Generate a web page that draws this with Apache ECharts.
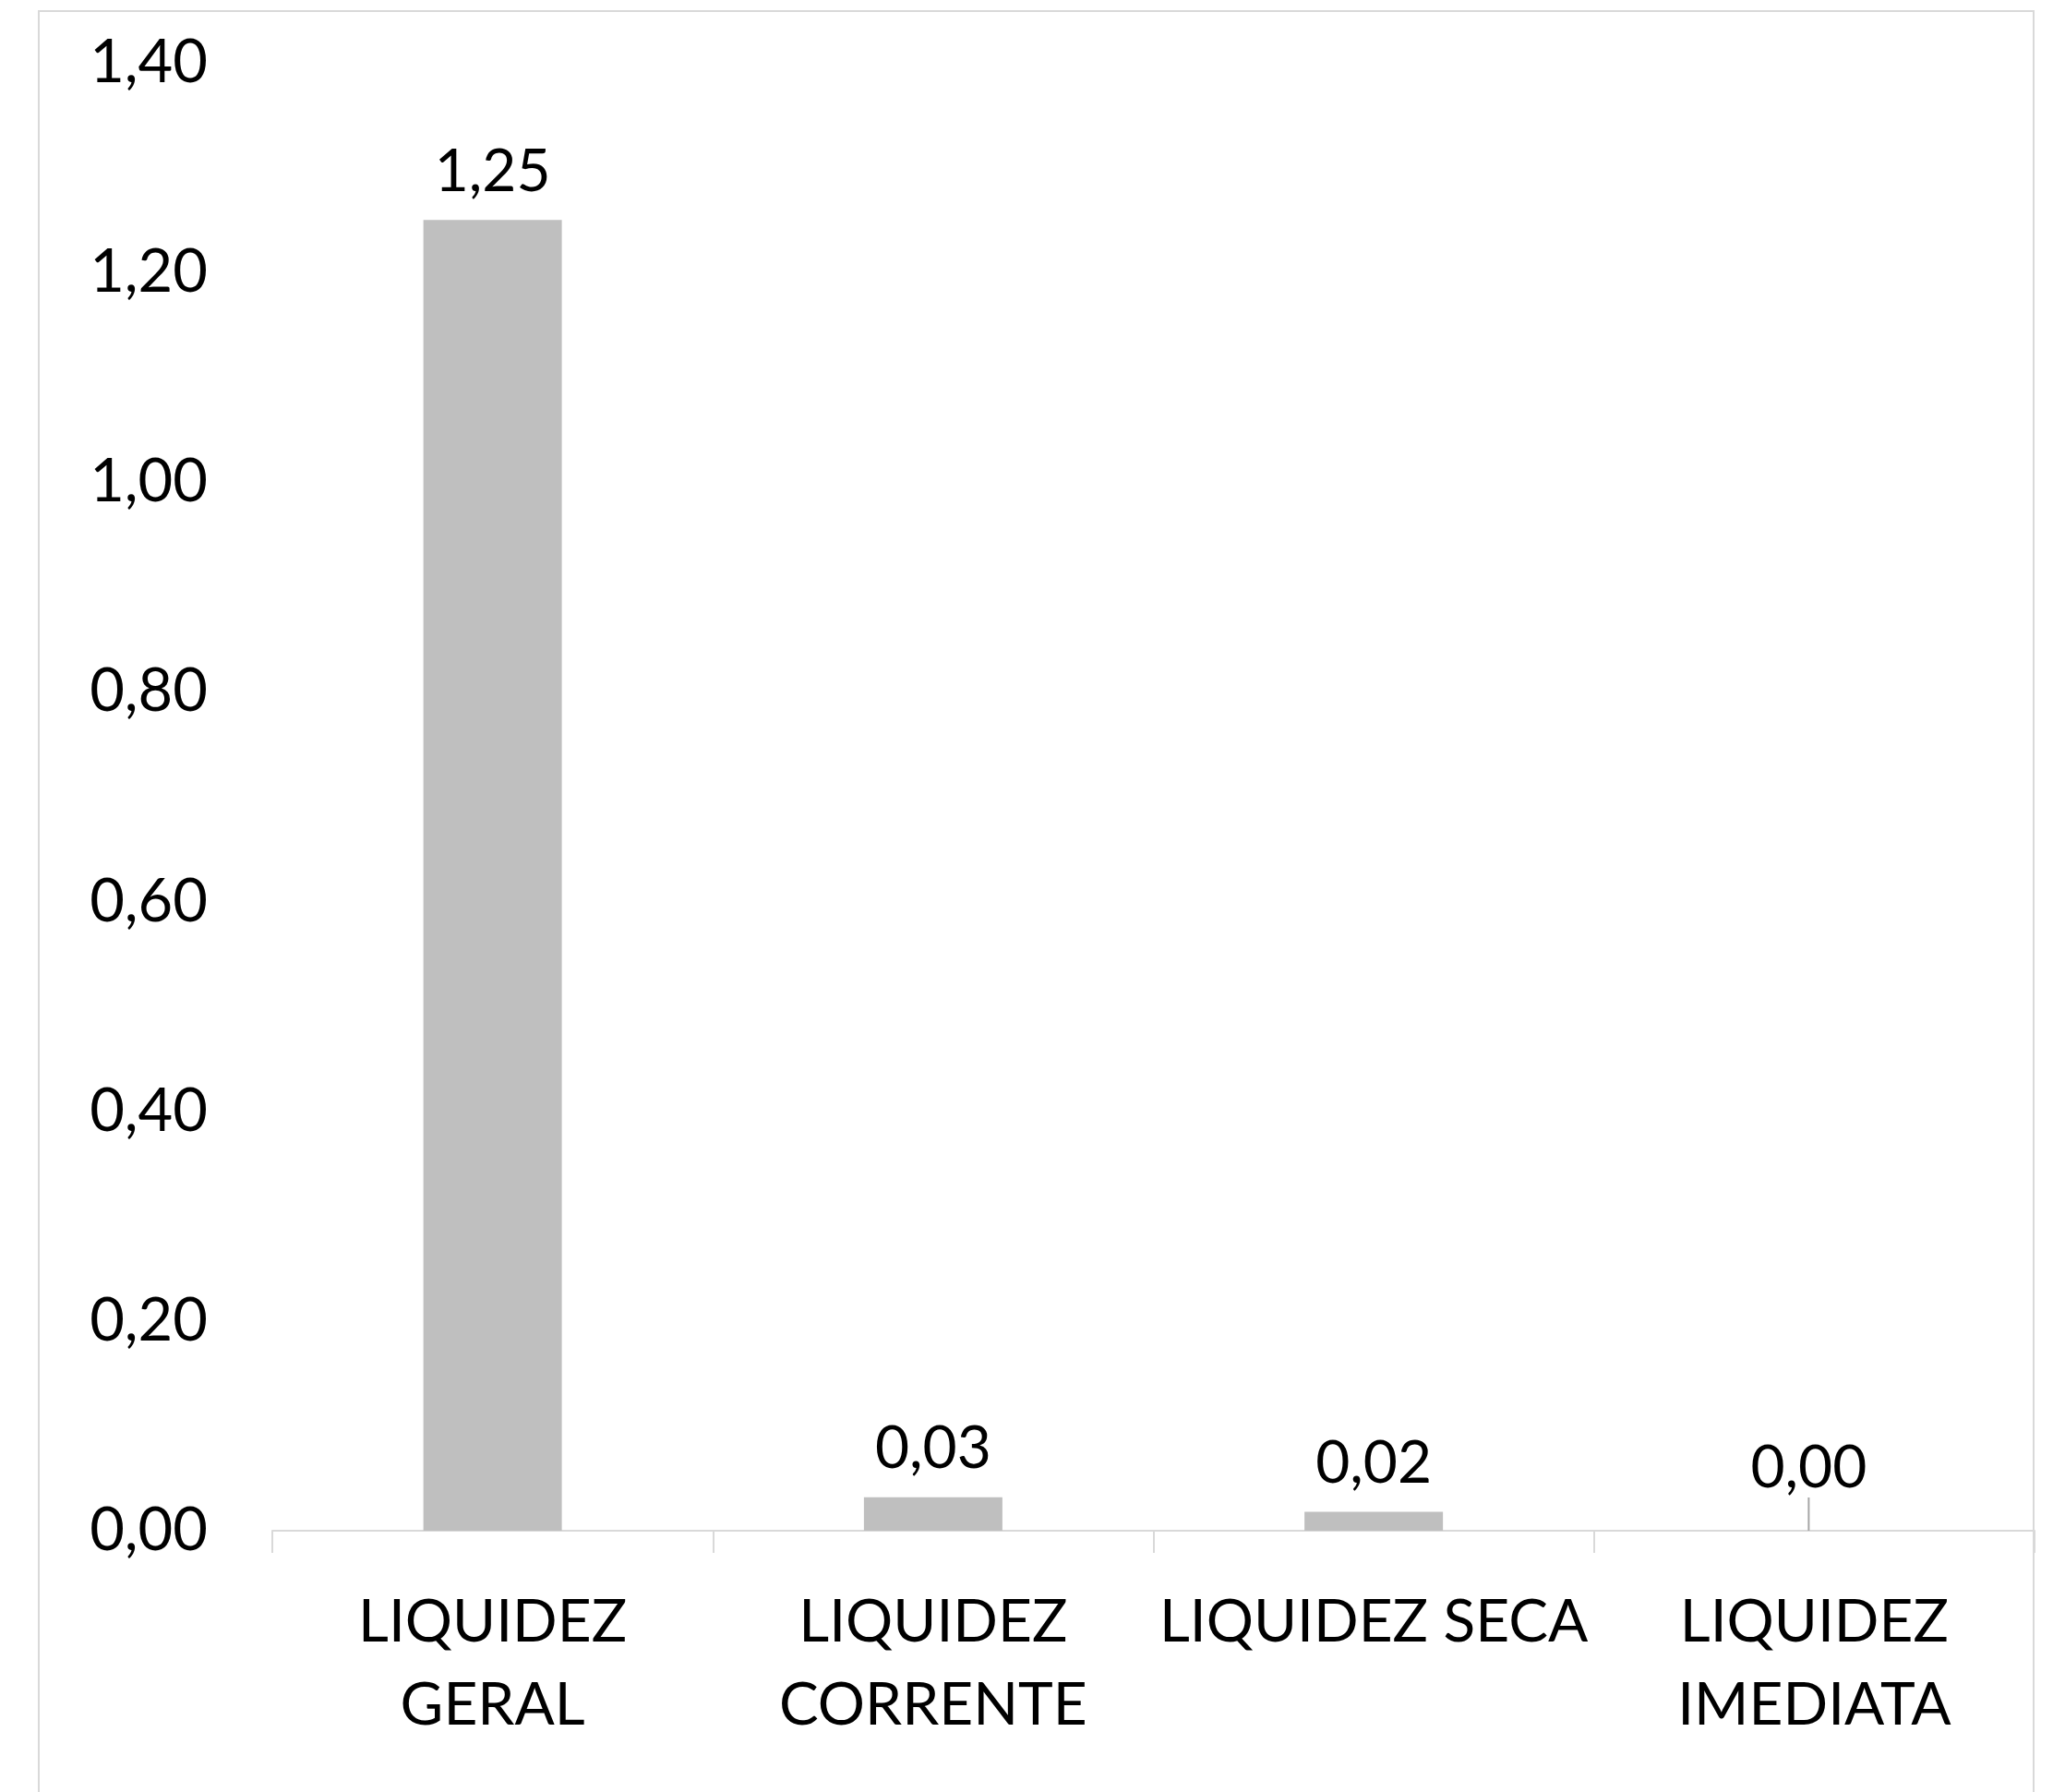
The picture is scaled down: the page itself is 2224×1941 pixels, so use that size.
<!DOCTYPE html>
<html>
<head>
<meta charset="utf-8">
<script src="https://cdn.jsdelivr.net/npm/echarts@6/dist/echarts.min.js"></script>
<style>
html,body{margin:0;padding:0;background:#fff;}
#chart{width:2224px;height:1941px;}
</style>
</head>
<body>
<div id="chart"></div>
<script>
const categories = ['LIQUIDEZ\nGERAL', 'LIQUIDEZ\nCORRENTE', 'LIQUIDEZ SECA', 'LIQUIDEZ\nIMEDIATA'];
const values = [1.25, 0.032, 0.018, 0.0];
const yMin = 0, yMax = 1.4, yStep = 0.2;

const fmt = v => Number(v).toFixed(2).replace('.', ',');
const FONT = 'Lato';

const seriesData = values.map((v, i) => (v === 0 ? {value: v, labelLine: {show: true}} : {value: v}));

const chart = echarts.init(document.getElementById('chart'), null, {renderer: 'canvas'});
chart.setOption({
  backgroundColor: '#ffffff',
  animation: false,
  graphic: [{
    type: 'rect',
    silent: true,
    shape: {x: 42, y: 12, width: 2161, height: 2000},
    style: {fill: 'none', stroke: '#d9d9d9', lineWidth: 2}
  }],
  grid: {left: 295, right: 20, top: 68, bottom: 283, containLabel: false},
  xAxis: {
    type: 'category',
    data: categories,
    boundaryGap: true,
    axisLine: {show: true, lineStyle: {color: '#d9d9d9', width: 2}},
    axisTick: {show: true, length: 24, alignWithLabel: false, lineStyle: {color: '#d9d9d9', width: 2}},
    axisLabel: {
      interval: 0, margin: 54, color: '#000', fontFamily: FONT, fontSize: 64, lineHeight: 90
    },
    splitLine: {show: false}
  },
  yAxis: {
    type: 'value',
    min: yMin, max: yMax, interval: yStep,
    axisLine: {show: false},
    axisTick: {show: false},
    splitLine: {show: false},
    axisLabel: {
      margin: 70, color: '#000', fontFamily: FONT, fontSize: 65,
      formatter: v => fmt(v)
    }
  },
  series: [{
    type: 'bar',
    data: seriesData,
    barWidth: 150,
    itemStyle: {color: '#bfbfbf'},
    label: {
      show: true, position: 'top', distance: 20,
      color: '#000', fontFamily: FONT, fontSize: 64,
      formatter: p => fmt(p.value)
    },
    labelLayout: function (params) {
      if (params.dataIndex === 3) return {dy: -16, dx: -6};
      return {};
    },
    labelLine: {show: false, lineStyle: {color: '#a6a6a6', width: 2}}
  }]
});
</script>
</body>
</html>
